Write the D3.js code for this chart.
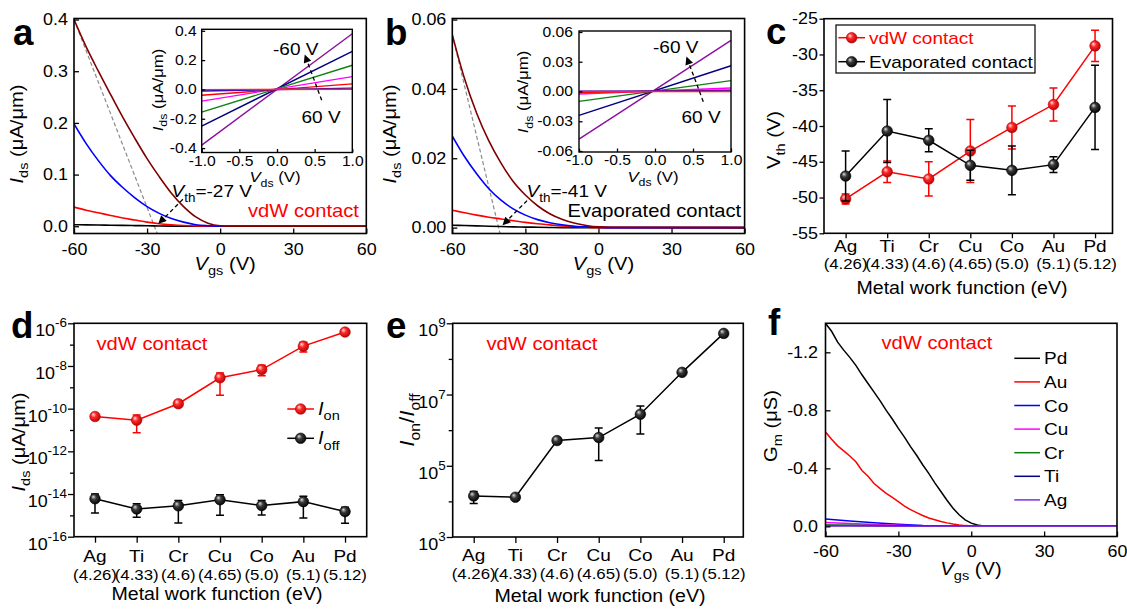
<!DOCTYPE html>
<html>
<head>
<meta charset="utf-8">
<script src="https://cdn.jsdelivr.net/npm/d3@7"></script>
<style>
  body { margin: 0; background: #fff; }
  svg { display: block; font-family: "Liberation Sans", Arial, sans-serif; }
  svg text { font-family: "Liberation Sans", Arial, sans-serif; fill: #000; }
  .axis line { stroke: #000; stroke-width: 1.3; }
</style>
</head>
<body>
<svg id="fig" width="1127" height="609"></svg>
<script>
// ---------- data ----------
const vgs = [-60, -55, -50, -45, -40, -35, -30, -25, -20, -15, -10, -5, 0, 5, 60];

// a: vdW contact transfer curves (uA/um)
const vdwBrown = [0.400, 0.347, 0.300, 0.255, 0.211, 0.170, 0.131, 0.096, 0.064, 0.038, 0.018, 0.006, 0.001, 0, 0];
const vdwBlue = [0.198, 0.160, 0.127, 0.098, 0.075, 0.055, 0.038, 0.025, 0.015, 0.008, 0.003, 0.001, 0, 0, 0];
const vdwRed = [0.037, 0.031, 0.026, 0.021, 0.016, 0.012, 0.008, 0.005, 0.003, 0.0015, 0.0006, 0.0002, 0, 0, 0];
const vdwBlack = [0.003, 0.0027, 0.0024, 0.002, 0.0017, 0.0013, 0.001, 0.0006, 0.0003, 0.0001, 0, 0, 0, 0, 0];

// b: evaporated contact transfer curves (uA/um)
const evBrown = [0.0556, 0.0430, 0.0330, 0.0250, 0.0186, 0.0133, 0.0094, 0.0063, 0.0040, 0.0024, 0.0013, 0.0006, 0.0002, 0.0001, 0];
const evBlue = [0.0264, 0.0205, 0.0155, 0.0112, 0.0079, 0.0054, 0.0036, 0.0023, 0.0014, 0.0008, 0.0004, 0.0002, 0.0001, 0, 0];
const evRed = [0.0050, 0.0043, 0.0036, 0.0030, 0.0025, 0.0020, 0.0015, 0.0011, 0.0008, 0.0005, 0.0003, 0.0001, 0, 0, 0];
const evBlack = [0.0007, 0.0006, 0.0005, 0.0004, 0.0003, 0.0002, 0.00015, 0.0001, 0.00005, 0, 0, 0, 0, 0, 0];

// insets: output curves, Ids at Vds = -1 and 1 V
const vds = [-1, 1];
const vdwOut = [[-0.38, 0.38], [-0.25, 0.26], [-0.155, 0.165], [-0.08, 0.087], [-0.04, 0.038], [-0.011, 0.009], [-0.001, 0.001]];
const evOut = [[-0.048, 0.0515], [-0.024, 0.026], [-0.010, 0.011], [-0.0025, 0.0035], [-0.001, 0.0015], [0.0004, 0.0005], [0, 0]];
const outColors = ['#8a0f9e', '#000080', '#108010', '#ff00ff', '#ff0000', '#0000ff', '#ff2a00'];

// c-e: metals
const metals = ['Ag', 'Ti', 'Cr', 'Cu', 'Co', 'Au', 'Pd'];
const workFn = ['(4.26)', '(4.33)', '(4.6)', '(4.65)', '(5.0)', '(5.1)', '(5.12)'];
const vthVdw = [-50.2, -46.4, -47.4, -43.5, -40.2, -37.0, -28.8];
const vthVdwErr = [0.7, 1.5, 2.4, 4.4, 3.0, 2.3, 2.2];
const vthEvap = [-47.0, -40.7, -42.0, -45.5, -46.2, -45.4, -37.4];
const vthEvapErr = [3.5, 4.4, 1.6, 2.1, 3.4, 1.1, 5.9];

const ion = [4.3e-11, 2.9e-11, 1.7e-10, 2.8e-9, 6.8e-9, 8.5e-8, 3.9e-7];
const ionLo = [3.5e-11, 7.4e-12, 1.26e-10, 4.2e-10, 3.5e-9, 4.5e-8, 3.3e-7];
const ionHi = [5.1e-11, 5.1e-11, 2.4e-10, 4.7e-9, 1.07e-8, 1.3e-7, 4.5e-7];
const ioff = [6.0e-15, 2.0e-15, 2.8e-15, 5.4e-15, 2.9e-15, 4.4e-15, 1.5e-15];
const ioffLo = [1.3e-15, 8.1e-16, 4.4e-16, 1.0e-15, 1.05e-15, 7.6e-16, 4.3e-16];
const ioffHi = [1.0e-14, 3.5e-15, 5.0e-15, 9.3e-15, 5.0e-15, 7.8e-15, 2.4e-15];

const onOff = [1.42e4, 1.31e4, 5.1e5, 6.2e5, 2.8e6, 4.2e7, 5.2e8];
const onOffLo = [8.7e3, null, null, 1.4e5, 7.8e5, null, null];
const onOffHi = [1.9e4, null, null, 1.15e6, 4.8e6, null, null];

// f: transconductance (uS)
const vgsF = [-60, -57.5, -55, -52.5, -50, -47.5, -45, -42.5, -40, -37.5, -35, -32.5, -30, -27.5, -25,
  -22.5, -20, -17.5, -15, -12.5, -10, -7.5, -5, -2.5, 0, 2.5, 5, 7.5, 60];
const gmPd = [-1.40, -1.345, -1.27, -1.215, -1.165, -1.11, -1.045, -0.985, -0.925, -0.865, -0.80, -0.74, -0.675,
  -0.615, -0.55, -0.49, -0.425, -0.365, -0.30, -0.24, -0.18, -0.125, -0.08, -0.045, -0.022, -0.009, -0.002, 0, 0];
const gmAu = [-0.65, -0.60, -0.555, -0.52, -0.485, -0.445, -0.385, -0.345, -0.295, -0.26, -0.228, -0.20, -0.17,
  -0.14, -0.115, -0.095, -0.075, -0.058, -0.045, -0.033, -0.024, -0.016, -0.01, -0.005, -0.002, 0, 0, 0, 0];
const vgsF2 = [-60, -50, -40, -30, -20, -10, 0, 60];
const gmCo = [-0.05, -0.037, -0.025, -0.014, -0.006, -0.002, 0, 0];
const gmCu = [-0.026, -0.019, -0.012, -0.007, -0.003, -0.001, 0, 0];
const gmCr = [-0.010, -0.008, -0.006, -0.004, -0.002, -0.001, 0, 0];
const gmTi = [-0.006, -0.005, -0.004, -0.003, -0.002, -0.001, 0, 0];
const gmAg = [-0.003, -0.0025, -0.002, -0.0015, -0.001, -0.0005, 0, 0];

// ---------- helpers ----------
const SX = 1.12; // lettering in the figure runs a little wider than Arial
const svg = d3.select('#fig');
svg.append('rect').attr('width', 1127).attr('height', 609).attr('fill', '#fff');
const defs = svg.append('defs');

function ball (id, hi, mid, lo) {
  const gr = defs.append('radialGradient').attr('id', id)
    .attr('cx', 0.45).attr('cy', 0.45).attr('r', 0.6).attr('fx', 0.33).attr('fy', 0.3);
  gr.append('stop').attr('offset', 0).attr('stop-color', hi);
  gr.append('stop').attr('offset', 0.4).attr('stop-color', mid);
  gr.append('stop').attr('offset', 1).attr('stop-color', lo);
}
ball('ballRed', '#ffe4e4', '#ff2a2a', '#b00000');
ball('ballBlack', '#dcdcdc', '#3a3a3a', '#000');

defs.append('marker').attr('id', 'arrow')
  .attr('viewBox', '0 0 10 10').attr('refX', 9).attr('refY', 5)
  .attr('markerWidth', 9).attr('markerHeight', 8).attr('markerUnits', 'userSpaceOnUse')
  .attr('orient', 'auto')
  .append('path').attr('d', 'M0,0L10,5L0,10z').attr('fill', '#000');

// move x/y into a transform so the text can be widened in place
function place (sel) {
  sel.each(function () {
    const t = d3.select(this);
    const x = +t.attr('x') || 0;
    const y = +t.attr('y') || 0;
    t.attr('x', null).attr('y', null)
      .attr('transform', `translate(${x},${y}) scale(${SX},1)`);
  });
}

// text made of parts: strings or {t, i (italic), sub}
function rich (x, y, parts, o = {}) {
  const size = o.size || 18;
  const t = svg.append('text')
    .attr('transform', `translate(${x},${y}) rotate(${o.rot || 0}) scale(${o.sx || SX},1)`)
    .attr('text-anchor', o.anchor || 'start')
    .attr('font-size', size)
    .attr('font-weight', o.bold ? 'bold' : null)
    .style('fill', o.fill || '#000');
  let shift = 0;
  parts.forEach(p => {
    if (typeof p === 'string') p = {t: p};
    const want = p.sub ? size * 0.3 : 0;
    t.append('tspan')
      .attr('dy', want - shift)
      .attr('font-size', p.sub ? Math.round(size * 0.72) : size)
      .attr('font-style', p.i ? 'italic' : null)
      .text(p.t);
    shift = want;
  });
  return t;
}

const fmt = p => d => d3.format(p)(d).replace('\u2212', '-');

function axis (gen, tx, ty, size) {
  const ax = svg.append('g').attr('class', 'axis')
    .attr('transform', `translate(${tx},${ty})`)
    .call(gen);
  ax.select('.domain').remove();
  ax.selectAll('.tick text').attr('font-size', size || 16).style('font-family', null).call(place);
  return ax;
}

function frame (x, y, sw) {
  const [x0, x1] = x.range();
  const [y0, y1] = y.range();
  svg.append('rect')
    .attr('x', x0).attr('y', y1).attr('width', x1 - x0).attr('height', y0 - y1)
    .attr('fill', 'none').attr('stroke', '#000').attr('stroke-width', sw || 1.6);
}

function clipFor (id, x, y) {
  const [x0, x1] = x.range();
  const [y0, y1] = y.range();
  defs.append('clipPath').attr('id', id).append('rect')
    .attr('x', x0).attr('y', y1).attr('width', x1 - x0).attr('height', y0 - y1);
  return svg.append('g').attr('clip-path', `url(#${id})`);
}

function panelLabel (x, y, s) {
  rich(x, y, [s], {size: 36, bold: true, sx: 1.02});
}

function dashedArrow (x1, y1, x2, y2) {
  svg.append('line')
    .attr('x1', x1).attr('y1', y1).attr('x2', x2).attr('y2', y2)
    .attr('stroke', '#000').attr('stroke-width', 1.3).attr('stroke-dasharray', '4,3')
    .attr('marker-end', 'url(#arrow)');
}

// ---------- a & b: transfer curves with output-curve insets ----------
function transfer (cfg) {
  const x = d3.scaleLinear().domain([-60, 60]).range([cfg.left, cfg.left + 292.3]);
  const y = d3.scaleLinear().domain(cfg.yDomain).range([233.5, 18.5]);
  const g = clipFor(cfg.id, x, y);
  const line = d3.line().x((d, i) => x(vgs[i])).y(d => y(d)).curve(d3.curveMonotoneX);

  // tangent through the Vth intercept, run to the bottom of the frame
  const slope = cfg.curves[0].vals[0] / (vgs[0] - cfg.vth);
  const vEnd = cfg.vth + cfg.yDomain[0] / slope;
  g.append('line')
    .attr('x1', x(vgs[0])).attr('y1', y(cfg.curves[0].vals[0]))
    .attr('x2', x(vEnd)).attr('y2', y(cfg.yDomain[0]))
    .attr('stroke', '#8a8a8a').attr('stroke-width', 1.2).attr('stroke-dasharray', '4,2.5');

  cfg.curves.slice().reverse().forEach(c => {
    g.append('path').datum(c.vals).attr('d', line)
      .attr('fill', 'none').attr('stroke', c.color).attr('stroke-width', 1.6);
  });

  axis(d3.axisBottom(x).tickValues([-60, -30, 0, 30, 60]).tickSize(-5).tickPadding(10)
    .tickFormat(d => String(d)), 0, 233.5);
  axis(d3.axisLeft(y).tickValues(cfg.yTicks).tickSize(-5).tickPadding(6)
    .tickFormat(fmt(cfg.yFmt)), cfg.left, 0);
  frame(x, y);

  // Vth annotation
  const tx = x(cfg.vth);
  const ty = y(0);
  dashedArrow(tx + 28.5, ty - 27, tx + 4.5, ty - 3);
  rich(cfg.vthText[0], cfg.vthText[1], [{t: 'V', i: 1}, {t: 'th', sub: 1}, `=${cfg.vth} V`], {size: 17});
  rich(cfg.tag[0], cfg.tag[1], [cfg.tag[2]], {size: 18, fill: cfg.tag[3]});

  // inset
  const ix = d3.scaleLinear().domain([-1, 1]).range(cfg.inX);
  const iy = d3.scaleLinear().domain(cfg.inYDomain).range(cfg.inY);
  svg.append('rect').attr('x', ix.range()[0]).attr('y', iy.range()[1])
    .attr('width', ix.range()[1] - ix.range()[0]).attr('height', iy.range()[0] - iy.range()[1])
    .attr('fill', '#fff');
  const ig = svg.append('g');
  const iline = d3.line().x((d, i) => ix(vds[i])).y(d => iy(d));
  cfg.out.forEach((vals, k) => {
    ig.append('path').datum(vals).attr('d', iline)
      .attr('fill', 'none').attr('stroke', outColors[k]).attr('stroke-width', 1.4);
  });
  axis(d3.axisBottom(ix).tickValues([-1, -0.5, 0, 0.5, 1]).tickSize(-3.5).tickPadding(3.5)
    .tickFormat(fmt('.1f')), 0, iy.range()[0], 14);
  axis(d3.axisLeft(iy).tickValues(cfg.inTicks).tickSize(-3.5).tickPadding(cfg.inPad)
    .tickFormat(fmt(cfg.inFmt)), ix.range()[0], 0, 14);
  frame(ix, iy, 1.4);
  const mx = (ix.range()[0] + ix.range()[1]) / 2;
  rich(mx - 2, iy.range()[0] + 29.5, [{t: 'V', i: 1}, {t: 'ds', sub: 1}, ' (V)'], {size: 15, anchor: 'middle'});
  rich(ix.range()[0] - cfg.inTitle[0], cfg.inTitle[1], [{t: 'I', i: 1}, {t: 'ds', sub: 1}, ' (μA/μm)'],
    {size: 15, anchor: 'middle', rot: -90});
  const ar = cfg.inArrow;
  dashedArrow(ar[0], ar[1], ar[2], ar[3]);
  rich(cfg.inLab[0], cfg.inLab[1], ['-60 V'], {size: 17});
  rich(cfg.inLab[2], cfg.inLab[3], ['60 V'], {size: 17});

  // axis titles
  rich(x(0) + 5, 270, [{t: 'V', i: 1}, {t: 'gs', sub: 1}, ' (V)'], {size: 18, anchor: 'middle'});
  rich(cfg.yTitle[0], cfg.yTitle[1], [{t: 'I', i: 1}, {t: 'ds', sub: 1}, ' (μA/μm)'],
    {size: 18, anchor: 'middle', rot: -90});
}

transfer({
  id: 'clipA', left: 74, yDomain: [-0.014, 0.402],
  yTicks: [0, 0.1, 0.2, 0.3, 0.4], yFmt: '.1f', vth: -27,
  curves: [
    {vals: vdwBrown, color: '#800000'}, {vals: vdwBlue, color: '#0000ff'},
    {vals: vdwRed, color: '#ff0000'}, {vals: vdwBlack, color: '#000'}
  ],
  vthText: [171.5, 197], tag: [248, 216.5, 'vdW contact', '#ff0000'],
  inX: [201.7, 352.3], inY: [152.5, 29.3], inYDomain: [-0.43, 0.41],
  inTicks: [-0.4, -0.2, 0, 0.2, 0.4], inFmt: '.1f', inPad: 5, out: vdwOut,
  inTitle: [39, 90], inArrow: [321.7, 100.3, 305, 55.3], inLab: [273, 55, 301.5, 123.3],
  yTitle: [23, 134]
});

transfer({
  id: 'clipB', left: 452.3, yDomain: [-0.0017, 0.0603],
  yTicks: [0, 0.02, 0.04, 0.06], yFmt: '.2f', vth: -41,
  curves: [
    {vals: evBrown, color: '#800000'}, {vals: evBlue, color: '#0000ff'},
    {vals: evRed, color: '#ff0000'}, {vals: evBlack, color: '#000'}
  ],
  vthText: [526.5, 196.7], tag: [567.5, 216.5, 'Evaporated contact', '#000'],
  inX: [579, 731], inY: [152, 31], inYDomain: [-0.061, 0.061],
  inTicks: [-0.06, -0.03, 0, 0.03, 0.06], inFmt: '.2f', inPad: 6, out: evOut,
  inTitle: [51, 92], inArrow: [703.3, 101.7, 686.7, 57.3], inLab: [653, 53.3, 681.5, 123.3],
  yTitle: [396, 134]
});

panelLabel(13, 45, 'a');
panelLabel(385, 45, 'b');

// ---------- shared pieces for c, d, e ----------
function metalAxis (x, yName, yFn) {
  const g = svg.append('g');
  g.selectAll(null).data(metals).join('text')
    .attr('x', (d, i) => x(i)).attr('y', yName)
    .attr('text-anchor', 'middle').attr('font-size', 17).text(d => d)
    .call(place);
  g.selectAll(null).data(workFn).join('text')
    .attr('x', (d, i) => x(i)).attr('y', yFn)
    .attr('text-anchor', 'middle').attr('font-size', 15).text(d => d)
    .call(place);
}

function series (x, y, vals, lo, hi, color, grad) {
  const g = svg.append('g');
  g.append('path').datum(vals)
    .attr('d', d3.line().x((d, i) => x(i)).y(d => y(d)))
    .attr('fill', 'none').attr('stroke', color).attr('stroke-width', 1.5);
  const bars = vals.map((v, i) => ({i, lo: lo[i], hi: hi[i]})).filter(d => d.lo != null);
  g.selectAll(null).data(bars).join('path')
    .attr('d', d => {
      const cx = x(d.i);
      return `M${cx},${y(d.lo)}V${y(d.hi)}M${cx - 4},${y(d.lo)}h8M${cx - 4},${y(d.hi)}h8`;
    })
    .attr('fill', 'none').attr('stroke', color).attr('stroke-width', 1.5);
  g.selectAll(null).data(vals).join('circle')
    .attr('cx', (d, i) => x(i)).attr('cy', d => y(d)).attr('r', 5.3)
    .attr('fill', `url(#${grad})`).attr('stroke', color === '#000' ? '#000' : '#c00000')
    .attr('stroke-width', 0.6);
}

function legendItem (x1, x2, y, color, grad, parts, size, textFill) {
  svg.append('line').attr('x1', x1).attr('x2', x2).attr('y1', y).attr('y2', y)
    .attr('stroke', color).attr('stroke-width', 1.5);
  if (grad) {
    svg.append('circle').attr('cx', (x1 + x2) / 2).attr('cy', y).attr('r', 5.3)
      .attr('fill', `url(#${grad})`).attr('stroke', color === '#000' ? '#000' : '#c00000')
      .attr('stroke-width', 0.6);
  }
  rich(x2 + 4, y + 6, parts, {size: size || 17, fill: textFill || '#000'});
}

// log axis labels written as 10 with a raised exponent
function powLabels (ax) {
  ax.selectAll('.tick text').each(function (d) {
    const t = d3.select(this);
    t.text(null).attr('dy', null);
    t.append('tspan').attr('dy', 12.5).text('10');
    t.append('tspan').attr('dy', -9).attr('font-size', 12)
      .text(String(Math.round(Math.log10(d))));
  });
}

function logAxis (y, left, major, minor) {
  const ax = svg.append('g').attr('class', 'axis').attr('transform', `translate(${left},0)`)
    .call(d3.axisLeft(y).tickValues(major).tickSize(6).tickPadding(1).tickFormat(() => ''));
  ax.select('.domain').remove();
  ax.selectAll('.tick text').attr('font-size', 16);
  powLabels(ax);
  ax.selectAll('.tick text').call(place);
  const mn = svg.append('g').attr('class', 'axis').attr('transform', `translate(${left},0)`)
    .call(d3.axisLeft(y).tickValues(minor).tickSize(4).tickFormat(() => ''));
  mn.select('.domain').remove();
}

// ---------- c: threshold voltage ----------
(function () {
  const x = d3.scaleLinear().domain([-0.52, 6.42]).range([824, 1112.5]);
  const y = d3.scaleLinear().domain([-55, -25]).range([233.3, 18.7]);
  axis(d3.axisBottom(x).tickValues(d3.range(metals.length)).tickSize(5).tickFormat(() => ''), 0, 233.3);
  axis(d3.axisLeft(y).tickValues(d3.range(-55, -24, 5)).tickSize(4.5).tickPadding(1.5)
    .tickFormat(d => String(d)), 824, 0);
  series(x, y, vthVdw, vthVdw.map((v, i) => v - vthVdwErr[i]), vthVdw.map((v, i) => v + vthVdwErr[i]),
    '#ff0000', 'ballRed');
  series(x, y, vthEvap, vthEvap.map((v, i) => v - vthEvapErr[i]), vthEvap.map((v, i) => v + vthEvapErr[i]),
    '#000', 'ballBlack');
  frame(x, y);
  metalAxis(x, 252.3, 268.5);
  rich(962, 293.5, ['Metal work function (eV)'], {size: 17.5, anchor: 'middle'});
  rich(780, 140, ['V', {t: 'th', sub: 1}, ' (V)'], {size: 18, anchor: 'middle', rot: -90});

  svg.append('rect').attr('x', 836).attr('y', 25).attr('width', 199).attr('height', 48)
    .attr('fill', '#fff').attr('stroke', '#000').attr('stroke-width', 1.2);
  legendItem(838.3, 865, 37.7, '#ff0000', 'ballRed', ['vdW contact'], 17, '#ff0000');
  legendItem(838.3, 865, 61.7, '#000', 'ballBlack', ['Evaporated contact']);
  panelLabel(766, 44, 'c');
})();

// ---------- d: on / off currents ----------
(function () {
  const x = d3.scaleLinear().domain([-0.504, 6.52]).range([74, 366.7]);
  const y = d3.scaleLog().domain([1e-16, 1e-6]).range([536.7, 323.3]);
  axis(d3.axisBottom(x).tickValues(d3.range(metals.length)).tickSize(6).tickFormat(() => ''), 0, 536.7);
  logAxis(y, 74, [1e-16, 1e-14, 1e-12, 1e-10, 1e-8, 1e-6], [1e-15, 1e-13, 1e-11, 1e-9, 1e-7]);
  series(x, y, ion, ionLo, ionHi, '#ff0000', 'ballRed');
  series(x, y, ioff, ioffLo, ioffHi, '#000', 'ballBlack');
  frame(x, y);
  metalAxis(x, 562, 580);
  rich(217, 600, ['Metal work function (eV)'], {size: 17.5, anchor: 'middle'});
  rich(25, 442, [{t: 'I', i: 1}, {t: 'ds', sub: 1}, ' (μA/μm)'], {size: 18, anchor: 'middle', rot: -90});
  rich(96.5, 350, ['vdW contact'], {size: 18, fill: '#ff0000'});
  legendItem(287.3, 314, 409, '#ff0000', 'ballRed', [{t: 'I', i: 1}, {t: 'on', sub: 1}], 18);
  legendItem(287.3, 314, 438.3, '#000', 'ballBlack', [{t: 'I', i: 1}, {t: 'off', sub: 1}], 18);
  panelLabel(11, 338, 'd');
})();

// ---------- e: on/off ratio ----------
(function () {
  const x = d3.scaleLinear().domain([-0.504, 6.47]).range([452.7, 743.3]);
  const y = d3.scaleLog().domain([1e3, 1e9]).range([537, 323.3]);
  axis(d3.axisBottom(x).tickValues(d3.range(metals.length)).tickSize(6).tickFormat(() => ''), 0, 537);
  logAxis(y, 452.7, [1e3, 1e5, 1e7, 1e9], [1e4, 1e6, 1e8]);
  series(x, y, onOff, onOffLo, onOffHi, '#000', 'ballBlack');
  frame(x, y);
  metalAxis(x, 561, 579);
  rich(600, 601.5, ['Metal work function (eV)'], {size: 17.5, anchor: 'middle'});
  rich(414, 420, [{t: 'I', i: 1}, {t: 'on', sub: 1}, '/', {t: 'I', i: 1}, {t: 'off', sub: 1}],
    {size: 20, anchor: 'middle', rot: -90});
  rich(486.5, 349.5, ['vdW contact'], {size: 18, fill: '#ff0000'});
  panelLabel(386, 338, 'e');
})();

// ---------- f: transconductance ----------
(function () {
  const x = d3.scaleLinear().domain([-60, 60]).range([825.5, 1117]);
  const y = d3.scaleLinear().domain([0.07, -1.4]).range([536.5, 323.3]);
  const g = clipFor('clipF', x, y);
  const fine = d3.line().x((d, i) => x(vgsF[i])).y(d => y(d));
  const coarse = d3.line().x((d, i) => x(vgsF2[i])).y(d => y(d));
  const curves = [
    {name: 'Pd', vals: gmPd, line: fine, color: '#000'},
    {name: 'Au', vals: gmAu, line: fine, color: '#ff0000'},
    {name: 'Co', vals: gmCo, line: coarse, color: '#0000ff'},
    {name: 'Cu', vals: gmCu, line: coarse, color: '#ff00ff'},
    {name: 'Cr', vals: gmCr, line: coarse, color: '#108010'},
    {name: 'Ti', vals: gmTi, line: coarse, color: '#000080'},
    {name: 'Ag', vals: gmAg, line: coarse, color: '#7f2fd8'}
  ];
  curves.forEach(c => {
    g.append('path').datum(c.vals).attr('d', c.line)
      .attr('fill', 'none').attr('stroke', c.color).attr('stroke-width', 1.5);
  });
  axis(d3.axisBottom(x).tickValues([-60, -30, 0, 30, 60]).tickSize(-5).tickPadding(9)
    .tickFormat(d => String(d)), 0, 536.5);
  axis(d3.axisLeft(y).tickValues([-1.2, -0.8, -0.4, 0]).tickSize(-5).tickPadding(7.5)
    .tickFormat(fmt('.1f')), 825.5, 0);
  frame(x, y);
  curves.forEach((c, k) => legendItem(1014.3, 1040, 358.3 + 23.6 * k, c.color, null, [c.name]));
  rich(971, 575, [{t: 'V', i: 1}, {t: 'gs', sub: 1}, ' (V)'], {size: 18, anchor: 'middle'});
  rich(777, 426, ['G', {t: 'm', sub: 1}, ' (μS)'], {size: 18, anchor: 'middle', rot: -90});
  rich(881.5, 349, ['vdW contact'], {size: 18, fill: '#ff0000'});
  panelLabel(768, 335, 'f');
})();
</script>
</body>
</html>
